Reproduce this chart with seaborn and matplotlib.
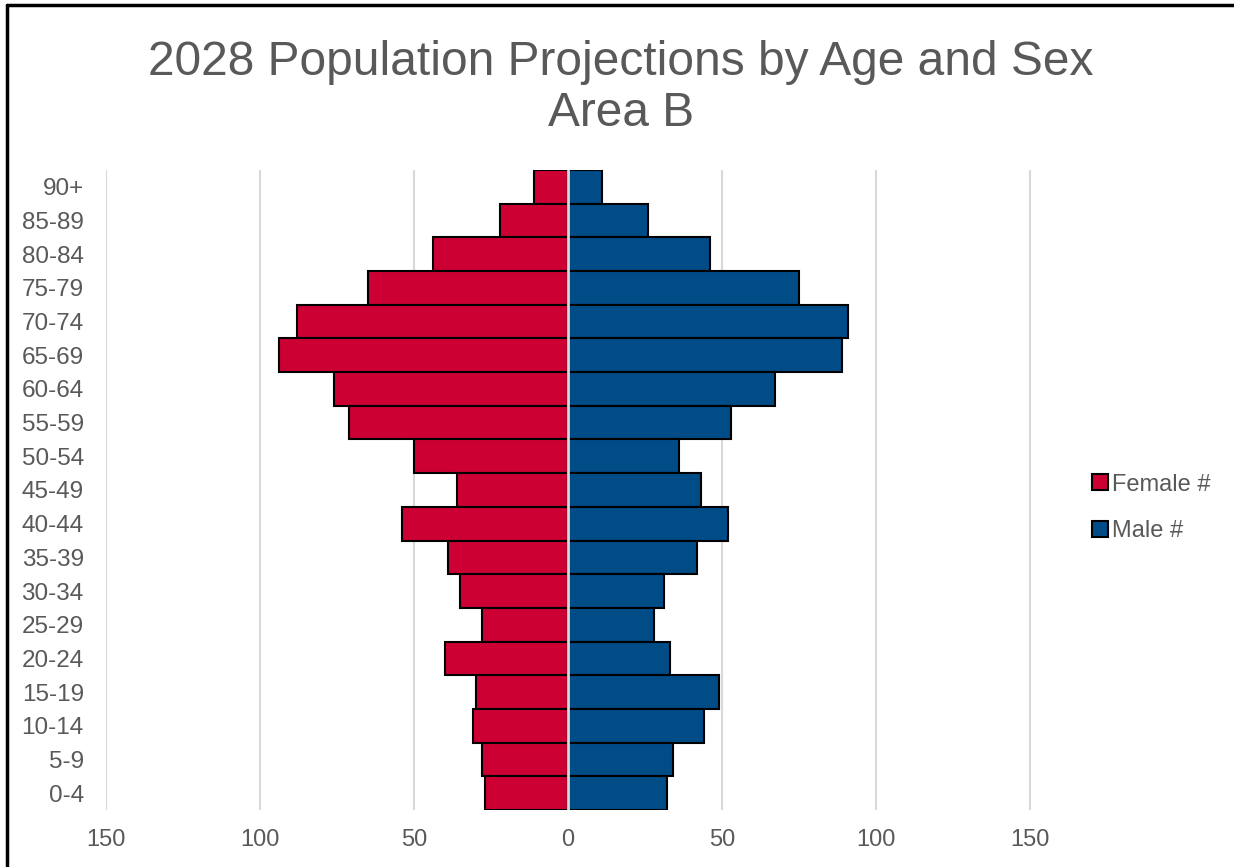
import numpy as np
import pandas as pd
import matplotlib.pyplot as plt
import seaborn as sns
from matplotlib.patches import Patch
from matplotlib.lines import Line2D

# age groups, top of pyramid first
ages = ["90+", "85-89", "80-84", "75-79", "70-74", "65-69", "60-64", "55-59",
        "50-54", "45-49", "40-44", "35-39", "30-34", "25-29", "20-24",
        "15-19", "10-14", "5-9", "0-4"]
female = [11, 22, 44, 65, 88, 94, 76, 71, 50, 36, 54, 39, 35, 28, 40, 30, 31, 28, 27]
male = [11, 26, 46, 75, 91, 89, 67, 53, 36, 43, 52, 42, 31, 28, 33, 49, 44, 34, 32]
xticks = [-150, -100, -50, 0, 50, 100, 150]

df = pd.DataFrame({"age": ages, "female": [-v for v in female], "male": male})

sns.set_theme(style="white")
plt.rcParams["font.family"] = ["Liberation Sans", "DejaVu Sans"]

red = "#cc0033"
blue = "#004c87"
grey_txt = "#595959"

fig = plt.figure(figsize=(12.34, 8.67), dpi=100)
ax = fig.add_axes([106 / 1234, 57 / 867, 955 / 1234, 640 / 867])

sns.barplot(data=df, y="age", x="female", order=ages, color=red, width=1,
            edgecolor="black", linewidth=1.5, saturation=1, ax=ax, zorder=2)
sns.barplot(data=df, y="age", x="male", order=ages, color=blue, width=1,
            edgecolor="black", linewidth=1.5, saturation=1, ax=ax, zorder=2)

ax.set_xlim(-150, 160)
ax.set_ylim(len(ages) - 0.5, -0.5)
ax.set_xticks(xticks)
ax.set_xticklabels([str(abs(t)) for t in xticks], fontsize=17, color=grey_txt)
ax.tick_params(axis="y", labelsize=17.5, labelcolor=grey_txt, length=0, pad=16)
ax.tick_params(axis="x", length=0, pad=14)
for t in xticks:
    if t != 0:
        ax.axvline(t, color="#d9d9d9", lw=1.5, zorder=0)
ax.axvline(0, color="#d9d9d9", lw=2, zorder=5)
ax.set_xlabel("")
ax.set_ylabel("")
for s in ax.spines.values():
    s.set_visible(False)

fig.suptitle("2028 Population Projections by Age and Sex\nArea B", x=0.503, y=0.954,
             fontsize=34.5, color=grey_txt, linespacing=1.18)

handles = [Patch(facecolor=red, edgecolor="black", linewidth=1.5, label="Female #"),
           Patch(facecolor=blue, edgecolor="black", linewidth=1.5, label="Male #")]
fig.legend(handles=handles, loc="center left", bbox_to_anchor=(1071 / 1234, 0.414),
           frameon=False, fontsize=17, labelcolor=grey_txt, handlelength=0.65,
           handleheight=0.65, handletextpad=0.2, labelspacing=1.05)

# chart border (left and top edges visible)
fig.add_artist(Line2D([7 / 1234, 7 / 1234], [0, 1 - 5 / 867], color="black", lw=2.5,
                      transform=fig.transFigure))
fig.add_artist(Line2D([7 / 1234, 1], [1 - 5 / 867, 1 - 5 / 867], color="black", lw=2.5,
                      transform=fig.transFigure))

fig.savefig("out.png", dpi=100)
